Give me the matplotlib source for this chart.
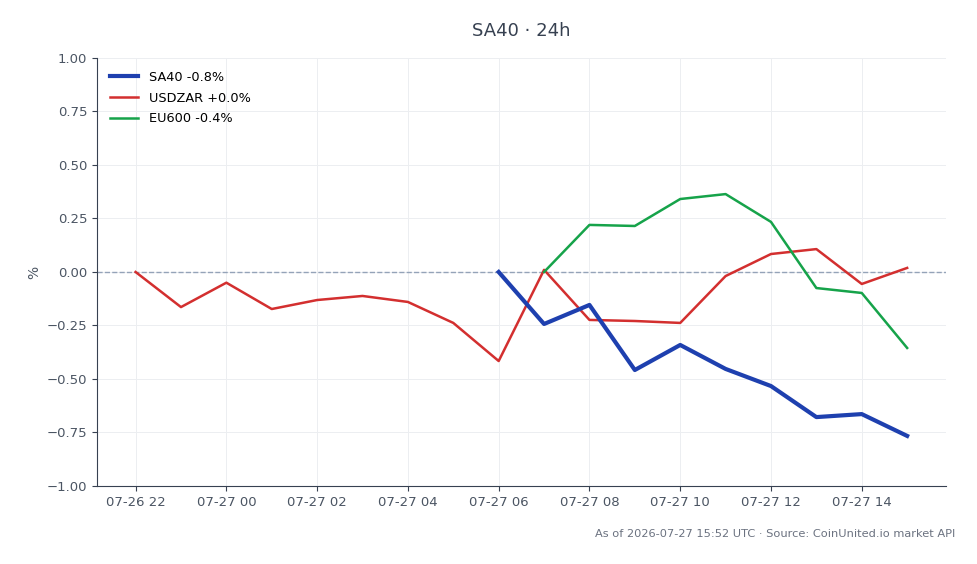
import matplotlib
matplotlib.use('Agg')
import matplotlib.pyplot as plt
import matplotlib.dates as mdates
import pandas as pd

# hourly timestamps covering the window
hours = pd.date_range('2026-07-26 22:00', '2026-07-27 15:00', freq='h')

usdzar = [0.00, -0.164, -0.05, -0.173, -0.131, -0.112, -0.14, -0.238, -0.416,
          0.01, -0.224, -0.229, -0.238, -0.019, 0.084, 0.107, -0.056, 0.019]
# SA40 starts at 06:00, EU600 at 07:00
sa40 = [0.00, -0.243, -0.154, -0.458, -0.341, -0.453, -0.533, -0.678, -0.664, -0.766]
eu600 = [0.00, 0.22, 0.215, 0.341, 0.364, 0.234, -0.075, -0.098, -0.355]

labels = ['SA40 -0.8%', 'USDZAR +0.0%', 'EU600 -0.4%']
title = 'SA40 \u00b7 24h'
footer = 'As of 2026-07-27 15:52 UTC \u00b7 Source: CoinUnited.io market API'

text_col = '#4b5563'

fig = plt.figure(figsize=(9.78, 5.64), dpi=100)
ax = fig.add_axes([0.0992, 0.1383, 0.8678, 0.7589])

ax.plot(hours[-len(sa40):], sa40, color='#1e40af', lw=3, label=labels[0], zorder=4)
ax.plot(hours, usdzar, color='#d32f2f', lw=1.8, label=labels[1], zorder=3)
ax.plot(hours[-len(eu600):], eu600, color='#16a34a', lw=1.8, label=labels[2], zorder=3)
ax.axhline(0, color='#94a3b8', lw=1, ls='--', zorder=2)

ax.set_ylim(-1, 1)
ax.set_yticks([-1, -0.75, -0.5, -0.25, 0, 0.25, 0.5, 0.75, 1])
ax.yaxis.set_major_formatter(plt.FuncFormatter(lambda v, p: '%.2f' % v if v >= 0 else '\u2212%.2f' % -v))
ax.xaxis.set_major_locator(mdates.HourLocator(byhour=range(0, 24, 2)))
ax.xaxis.set_major_formatter(mdates.DateFormatter('%m-%d %H'))
ax.set_ylabel('%', color=text_col, fontsize=10)

ax.grid(True, color='#eceef1', lw=0.7)
ax.set_axisbelow(True)
for s in ['top', 'right']:
    ax.spines[s].set_visible(False)
for s in ['left', 'bottom']:
    ax.spines[s].set_color('#374151')
ax.tick_params(colors='#374151', labelcolor=text_col, labelsize=9.5)

ax.set_title(title, color='#374151', fontsize=13, pad=16)
ax.legend(loc='upper left', frameon=False, fontsize=9.3, handlelength=2.2,
          labelspacing=0.6, borderaxespad=0.6)

fig.text(0.977, 0.053, footer, ha='right', va='center', color='#6b7280', fontsize=8.2)

fig.savefig('out.png', dpi=100)
